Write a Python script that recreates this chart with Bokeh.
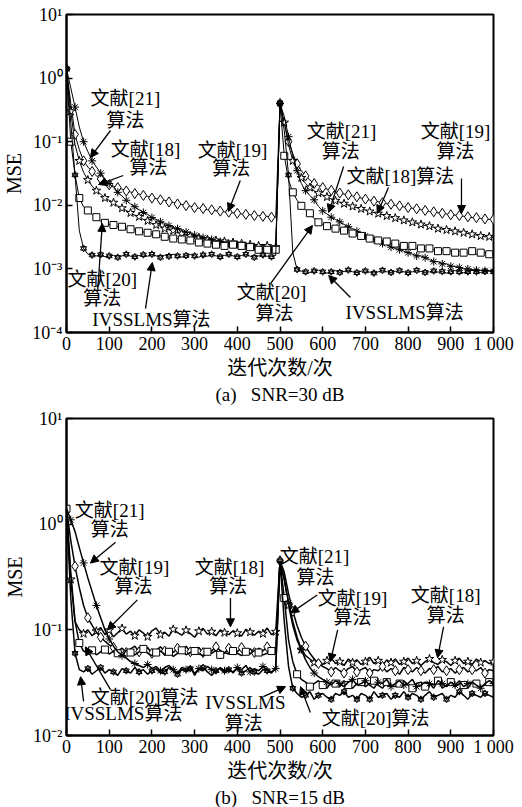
from bokeh.plotting import figure
from bokeh.layouts import column
from bokeh.models import FixedTicker, Label, Arrow, NormalHead, Title, Range1d
from bokeh.embed import file_html
from bokeh.resources import INLINE

FONT = "Liberation Serif, Noto Sans CJK SC"

# ---------------- data ----------------
iters = list(range(0, 1001, 10))

x_ticks = [0, 100, 200, 300, 400, 500, 600, 700, 800, 900, 1000]
x_tick_labels = ["0", "100", "200", "300", "400", "500", "600", "700", "800", "900", "1 000"]

ya_ticks = [1e-4, 1e-3, 1e-2, 1e-1, 1, 10]
ya_labels = ["10⁻⁴", "10⁻³", "10⁻²", "10⁻¹", "10⁰", "10¹"]
yb_ticks = [1e-2, 1e-1, 1, 10]
yb_labels = ["10⁻²", "10⁻¹", "10⁰", "10¹"]

# (a) SNR = 30 dB
a_ivss = [1.4, 0.2, 0.03, 0.004, 0.0021, 0.0017, 0.00165, 0.0016, 0.00168, 0.00155,
          0.0016, 0.00163, 0.00152, 0.0016, 0.0017, 0.00158, 0.00155, 0.00162, 0.00167, 0.00158,
          0.0017, 0.0016, 0.00152, 0.00165, 0.00158, 0.0017, 0.0016, 0.00153, 0.00162, 0.00168,
          0.0016, 0.00152, 0.00166, 0.00158, 0.0017, 0.0016, 0.00155, 0.00163, 0.0017, 0.0016,
          0.00155, 0.00162, 0.0017, 0.00158, 0.00152, 0.0016, 0.00166, 0.00158, 0.00155, 0.00162,
          0.4, 0.15, 0.03, 0.0018, 0.00098, 0.00092, 0.0009, 0.00088, 0.00093, 0.00095,
          0.0009, 0.00086, 0.0009, 0.00094, 0.00088, 0.00091, 0.00096, 0.0009, 0.00087, 0.00092,
          0.00093, 0.00089, 0.00086, 0.0009, 0.00095, 0.0009, 0.00088, 0.00091, 0.00094, 0.0009,
          0.00087, 0.0009, 0.00095, 0.00091, 0.00088, 0.0009, 0.00093, 0.00089, 0.00091, 0.00086,
          0.0009, 0.00094, 0.0009, 0.00087, 0.0009, 0.00095, 0.0009, 0.00088, 0.00091, 0.00093, 0.0009]
a_20 = [1.4, 0.1, 0.03, 0.013, 0.0095, 0.0083, 0.0072, 0.0065, 0.0056, 0.0053,
        0.005, 0.0049, 0.0046, 0.0046, 0.0043, 0.0042, 0.0041, 0.0039, 0.0038, 0.0037,
        0.0035, 0.0035, 0.0033, 0.0032, 0.0032, 0.003, 0.003, 0.0029, 0.0028, 0.0028,
        0.0027, 0.0026, 0.0027, 0.0025, 0.0025, 0.0024, 0.0025, 0.0023, 0.0023, 0.0024,
        0.0022, 0.0023, 0.0021, 0.0022, 0.0021, 0.002, 0.0021, 0.002, 0.0019, 0.002,
        0.4, 0.06, 0.025, 0.016, 0.012, 0.0098, 0.0085, 0.0075, 0.0062, 0.0054,
        0.005, 0.0047, 0.0045, 0.0043, 0.0042, 0.004, 0.0038, 0.0036, 0.0034, 0.0033,
        0.0031, 0.003, 0.0029, 0.0028, 0.0026, 0.0027, 0.0025, 0.0025, 0.0024, 0.0023,
        0.0022, 0.0023, 0.0021, 0.0021, 0.002, 0.0021, 0.002, 0.0019, 0.002, 0.0019,
        0.0019, 0.0018, 0.0019, 0.0018, 0.0018, 0.0019, 0.0017, 0.0018, 0.0018, 0.0017, 0.0018]
a_19 = [1.4, 0.4, 0.13, 0.075, 0.05, 0.04, 0.034, 0.029, 0.026, 0.023,
        0.021, 0.02, 0.019, 0.018, 0.0168, 0.0162, 0.0153, 0.015, 0.0143, 0.0138,
        0.013, 0.0128, 0.0122, 0.012, 0.0113, 0.0111, 0.0105, 0.0103, 0.0099, 0.0097,
        0.0092, 0.009, 0.0089, 0.0085, 0.0085, 0.0082, 0.0081, 0.0079, 0.0078, 0.0076,
        0.0075, 0.0073, 0.0072, 0.0071, 0.0069, 0.0069, 0.0067, 0.0067, 0.0065, 0.0065,
        0.4, 0.2, 0.1, 0.065, 0.045, 0.035, 0.029, 0.025, 0.022, 0.0205,
        0.019, 0.018, 0.0172, 0.0162, 0.0156, 0.015, 0.0146, 0.014, 0.0136, 0.013,
        0.0125, 0.0121, 0.0116, 0.0114, 0.011, 0.0106, 0.0104, 0.01, 0.0098, 0.0094,
        0.0092, 0.009, 0.0088, 0.0085, 0.0083, 0.008, 0.0079, 0.0076, 0.0075, 0.0073,
        0.0071, 0.007, 0.0069, 0.0067, 0.0066, 0.0064, 0.0064, 0.0062, 0.0061, 0.006, 0.006]
a_21 = [1.4, 0.7, 0.35, 0.17, 0.1, 0.07, 0.05, 0.04, 0.032, 0.026,
        0.022, 0.019, 0.016, 0.014, 0.012, 0.0105, 0.0095, 0.0085, 0.0077, 0.0072,
        0.0064, 0.006, 0.0055, 0.0052, 0.0048, 0.0045, 0.0043, 0.004, 0.0038, 0.0037,
        0.0034, 0.0033, 0.0031, 0.0031, 0.0029, 0.0028, 0.0027, 0.0027, 0.0025, 0.0025,
        0.0024, 0.0024, 0.0023, 0.0022, 0.0022, 0.0021, 0.0021, 0.0021, 0.002, 0.002,
        0.4, 0.25, 0.12, 0.06, 0.035, 0.022, 0.017, 0.0142, 0.0122, 0.0096,
        0.0082, 0.0073, 0.0065, 0.006, 0.0055, 0.005, 0.0046, 0.0043, 0.0039, 0.0037,
        0.0033, 0.0031, 0.0029, 0.0028, 0.0025, 0.0024, 0.0022, 0.0021, 0.002, 0.0019,
        0.0018, 0.0017, 0.0016, 0.0016, 0.0015, 0.0014, 0.0013, 0.0013, 0.0012, 0.0012,
        0.0011, 0.0011, 0.00105, 0.001, 0.001, 0.00098, 0.00096, 0.00095, 0.00094, 0.00093, 0.00092]
a_18 = [1.4, 0.3, 0.09, 0.05, 0.033, 0.025, 0.02, 0.017, 0.015, 0.013,
        0.012, 0.011, 0.0098, 0.009, 0.0083, 0.0076, 0.007, 0.0066, 0.006, 0.0057,
        0.0052, 0.0049, 0.0047, 0.0043, 0.0041, 0.004, 0.0037, 0.0036, 0.0034, 0.0033,
        0.0032, 0.0031, 0.003, 0.0029, 0.0029, 0.0028, 0.0027, 0.0027, 0.0026, 0.0026,
        0.0025, 0.0025, 0.0024, 0.0024, 0.0024, 0.0023, 0.0023, 0.0023, 0.0022, 0.0022,
        0.4, 0.2, 0.09, 0.05, 0.035, 0.027, 0.022, 0.019, 0.017, 0.0155,
        0.0145, 0.0135, 0.0126, 0.0118, 0.0112, 0.0106, 0.0101, 0.0096, 0.0092, 0.0088,
        0.0084, 0.008, 0.0077, 0.0074, 0.0071, 0.0068, 0.0065, 0.0063, 0.006, 0.0058,
        0.0056, 0.0054, 0.0052, 0.005, 0.0048, 0.0047, 0.0045, 0.0043, 0.0042, 0.0041,
        0.004, 0.0039, 0.0038, 0.0037, 0.0036, 0.0035, 0.0034, 0.0033, 0.0032, 0.0032, 0.0031]

# (b) SNR = 15 dB
b_18 = [1.4, 0.3, 0.12, 0.1, 0.092, 0.1, 0.088, 0.097, 0.105, 0.09,
        0.099, 0.086, 0.094, 0.103, 0.091, 0.097, 0.088, 0.1, 0.093, 0.086,
        0.098, 0.104, 0.09, 0.095, 0.087, 0.101, 0.094, 0.089, 0.099, 0.092,
        0.085, 0.097, 0.103, 0.091, 0.096, 0.088, 0.1, 0.094, 0.09, 0.098,
        0.093, 0.087, 0.101, 0.095, 0.089, 0.097, 0.092, 0.104, 0.09, 0.096,
        0.45, 0.3, 0.17, 0.11, 0.08, 0.065, 0.057, 0.053, 0.049, 0.052,
        0.047, 0.051, 0.054, 0.048, 0.05, 0.046, 0.053, 0.049, 0.052, 0.047,
        0.05, 0.055, 0.048, 0.051, 0.046, 0.052, 0.049, 0.053, 0.047, 0.05,
        0.054, 0.048, 0.051, 0.046, 0.05, 0.053, 0.049, 0.047, 0.052, 0.05,
        0.046, 0.051, 0.054, 0.048, 0.05, 0.047, 0.053, 0.049, 0.051, 0.048, 0.05]
b_19 = [1.4, 0.7, 0.4, 0.25, 0.17, 0.13, 0.11, 0.095, 0.085, 0.078,
        0.072, 0.068, 0.063, 0.067, 0.061, 0.066, 0.07, 0.062, 0.065, 0.068,
        0.06, 0.064, 0.069, 0.063, 0.066, 0.061, 0.067, 0.064, 0.07, 0.062,
        0.065, 0.068, 0.061, 0.066, 0.063, 0.069, 0.064, 0.06, 0.067, 0.065,
        0.062, 0.068, 0.064, 0.066, 0.061, 0.067, 0.063, 0.069, 0.065, 0.062,
        0.45, 0.35, 0.22, 0.15, 0.11, 0.085, 0.07, 0.06, 0.053, 0.048,
        0.045, 0.043, 0.04, 0.044, 0.041, 0.039, 0.043, 0.045, 0.04, 0.042,
        0.044, 0.039, 0.042, 0.041, 0.045, 0.04, 0.043, 0.041, 0.038, 0.044,
        0.042, 0.04, 0.044, 0.041, 0.039, 0.043, 0.042, 0.045, 0.04, 0.041,
        0.043, 0.039, 0.042, 0.044, 0.04, 0.042, 0.041, 0.044, 0.039, 0.042, 0.041]
b_20 = [1.4, 0.35, 0.12, 0.075, 0.063, 0.06, 0.064, 0.058, 0.062, 0.065,
        0.059, 0.063, 0.06, 0.057, 0.064, 0.061, 0.058, 0.062, 0.066, 0.06,
        0.057, 0.061, 0.063, 0.059, 0.062, 0.056, 0.06, 0.064, 0.058, 0.061,
        0.063, 0.059, 0.057, 0.062, 0.06, 0.064, 0.058, 0.061, 0.059, 0.063,
        0.06, 0.057, 0.062, 0.059, 0.064, 0.061, 0.058, 0.06, 0.063, 0.059,
        0.45, 0.2, 0.08, 0.05, 0.038, 0.034, 0.032, 0.029, 0.031, 0.033,
        0.03, 0.028, 0.032, 0.031, 0.029, 0.033, 0.03, 0.028, 0.031, 0.032,
        0.029, 0.031, 0.033, 0.03, 0.028, 0.032, 0.03, 0.029, 0.031, 0.033,
        0.03, 0.028, 0.031, 0.032, 0.029, 0.031, 0.03, 0.033, 0.028, 0.03,
        0.032, 0.029, 0.031, 0.03, 0.028, 0.032, 0.031, 0.029, 0.03, 0.032, 0.03]
b_21 = [1.4, 1.1, 0.85, 0.6, 0.43, 0.31, 0.23, 0.17, 0.13, 0.1,
        0.082, 0.07, 0.062, 0.057, 0.054, 0.05, 0.048, 0.046, 0.044, 0.047,
        0.043, 0.045, 0.041, 0.044, 0.046, 0.042, 0.039, 0.044, 0.042, 0.045,
        0.037, 0.043, 0.041, 0.045, 0.042, 0.04, 0.044, 0.041, 0.043, 0.039,
        0.044, 0.042, 0.046, 0.04, 0.043, 0.041, 0.045, 0.042, 0.04, 0.043,
        0.45, 0.3, 0.18, 0.12, 0.085, 0.065, 0.052, 0.044, 0.039, 0.036,
        0.034, 0.032, 0.03, 0.033, 0.031, 0.029, 0.032, 0.034, 0.03, 0.031,
        0.033, 0.03, 0.028, 0.032, 0.031, 0.034, 0.029, 0.031, 0.033, 0.03,
        0.031, 0.034, 0.029, 0.03, 0.032, 0.031, 0.028, 0.033, 0.031, 0.029,
        0.032, 0.03, 0.033, 0.029, 0.031, 0.032, 0.03, 0.028, 0.031, 0.033, 0.031]
b_ivss = [1.4, 0.2, 0.06, 0.042, 0.04, 0.043, 0.038, 0.041, 0.044, 0.039,
          0.042, 0.04, 0.037, 0.043, 0.041, 0.039, 0.044, 0.04, 0.042, 0.038,
          0.041, 0.043, 0.039, 0.04, 0.044, 0.041, 0.038, 0.042, 0.04, 0.043,
          0.039, 0.042, 0.044, 0.04, 0.037, 0.041, 0.043, 0.039, 0.042, 0.04,
          0.043, 0.039, 0.041, 0.044, 0.04, 0.038, 0.042, 0.041, 0.039, 0.043,
          0.45, 0.12, 0.045, 0.028, 0.025, 0.023, 0.024, 0.026, 0.022, 0.024,
          0.025, 0.023, 0.022, 0.025, 0.024, 0.026, 0.023, 0.024, 0.022, 0.025,
          0.024, 0.022, 0.026, 0.023, 0.024, 0.025, 0.022, 0.024, 0.023, 0.026,
          0.023, 0.025, 0.024, 0.022, 0.024, 0.026, 0.023, 0.024, 0.025, 0.022,
          0.024, 0.023, 0.026, 0.024, 0.022, 0.025, 0.024, 0.023, 0.025, 0.024, 0.023]

# annotations (text, x, y) in data units
ann_a_text = ["文献[21]", "算法", "文献[18]", "算法", "文献[19]", "算法", "文献[20]", "算法",
              "IVSSLMS算法", "文献[21]", "算法", "文献[18]算法", "文献[19]", "算法",
              "文献[20]", "算法", "IVSSLMS算法"]
ann_a_x = [138, 138, 185, 192, 389, 386, 84, 84, 199, 644, 642, 782, 911, 911, 480, 487, 792]
ann_a_y = [0.48, 0.215, 0.0753, 0.0393, 0.0728, 0.0379, 0.00068, 0.000343, 0.00016,
           0.1445, 0.0702, 0.0284, 0.1445, 0.0702, 0.000426, 0.000199, 0.000206]
arr_a_x0 = [103, 133, 407, 73, 185, 649, 754, 925, 478, 665]
arr_a_y0 = [0.15, 0.0294, 0.0245, 0.000457, 0.000238, 0.0407, 0.019, 0.0264, 0.000589, 0.000355]
arr_a_x1 = [56, 75, 379, 84, 201, 614, 728, 925, 576, 614]
arr_a_y1 = [0.0565, 0.0212, 0.008, 0.00518, 0.00126, 0.0077, 0.00743, 0.00743, 0.00481, 0.000787]

ann_b_text = ["文献[21]", "算法", "文献[19]", "算法", "文献[18]", "算法", "文献[20]算法",
              "IVSSLMS算法", "文献[21]", "算法", "文献[19]", "算法", "文献[18]", "算法",
              "IVSSLMS", "算法", "文献[20]算法"]
ann_b_x = [101, 101, 159, 157, 382, 379, 183, 133, 581, 583, 670, 670, 888, 888, 419, 415, 724]
ann_b_y = [1.355, 0.897, 0.385, 0.255, 0.385, 0.255, 0.0228, 0.01614, 0.489, 0.316,
           0.2, 0.13, 0.2095, 0.1355, 0.0205, 0.01297, 0.01445]
arr_b_x0 = [115, 166, 384, 103, 40, 587, 635, 883, 461, 571]
arr_b_y0 = [0.676, 0.192, 0.2, 0.0272, 0.021, 0.214, 0.1, 0.1067, 0.0233, 0.0165]
arr_b_x1 = [56, 96, 384, 44, 33, 525, 618, 869, 513, 548]
arr_b_y1 = [0.428, 0.1, 0.1067, 0.069, 0.036, 0.144, 0.0499, 0.0544, 0.029, 0.029]


def make_fig(height, top, bottom, ylo, yhi, yticks, ylabels, caption):
    p = figure(width=522, height=height, title=None,
               x_range=Range1d(0, 1000), y_range=Range1d(ylo, yhi),
               y_axis_type="log", output_backend="svg", toolbar_location=None,
               min_border_left=66, min_border_right=29,
               min_border_top=top, min_border_bottom=bottom)
    p.grid.visible = False
    p.outline_line_color = "black"
    p.outline_line_width = 2
    p.outline_line_alpha = 1
    p.xaxis.ticker = FixedTicker(ticks=x_ticks)
    p.xaxis.major_label_overrides = {t: l for t, l in zip(x_ticks, x_tick_labels)}
    p.yaxis.ticker = FixedTicker(ticks=yticks)
    p.yaxis.major_label_overrides = {t: l for t, l in zip(yticks, ylabels)}
    for ax in (p.xaxis[0], p.yaxis[0]):
        ax.axis_line_width = 2
        ax.major_tick_in = 6
        ax.major_tick_out = 0
        ax.minor_tick_in = 0
        ax.minor_tick_out = 0
        ax.major_tick_line_width = 1.5
        ax.major_label_text_font = FONT
        ax.major_label_text_font_size = "18px"
        ax.major_label_text_color = "black"
        ax.axis_label_text_font = FONT
        ax.axis_label_text_font_style = "normal"
        ax.axis_label_text_font_size = "20px"
        ax.axis_label_text_color = "black"
    p.xaxis.axis_label = "迭代次数/次"
    p.yaxis.axis_label = "MSE"
    p.xaxis.major_label_standoff = 1
    p.xaxis.axis_label_standoff = 0
    p.yaxis.major_label_standoff = 4
    p.yaxis.axis_label_standoff = 4
    cap = Title(text=caption, align="center", text_font=FONT, text_font_size="19px",
                text_font_style="normal", text_color="black", standoff=0)
    p.add_layout(cap, "below")
    return p


def draw(p, series, lw, step):
    for ys, mk, size, off in series:
        p.line(iters, ys, line_color="black", line_width=lw)
        xs_m = iters[off::step]
        ys_m = ys[off::step]
        if mk == "hexagram":
            p.scatter(xs_m, ys_m, marker="triangle", size=size, fill_color=None, line_color="black")
            p.scatter(xs_m, ys_m, marker="inverted_triangle", size=size, fill_color=None, line_color="black")
        else:
            p.scatter(xs_m, ys_m, marker=mk, size=size, fill_color="white", line_color="black")


def annotate(p, texts, xs, ys, x0, y0, x1, y1):
    for t, x, y in zip(texts, xs, ys):
        p.add_layout(Label(x=x, y=y, text=t, text_align="center", text_baseline="middle",
                           text_font=FONT, text_font_size="19px", text_color="black"))
    for a, b, c, d in zip(x0, y0, x1, y1):
        p.add_layout(Arrow(end=NormalHead(size=8, fill_color="black", line_color="black"),
                           x_start=a, y_start=b, x_end=c, y_end=d,
                           line_color="black", line_width=1.3))


p1 = make_fig(405, 14, 73, 1e-4, 10, ya_ticks, ya_labels, "(a)\u2002\u00a0SNR=30 dB")
draw(p1, [(a_19, "diamond", 10, 0), (a_18, "star", 9, 1), (a_21, "asterisk", 8, 0),
          (a_20, "square", 7, 1), (a_ivss, "hexagram", 6, 0)], 1.0, 2)
annotate(p1, ann_a_text, ann_a_x, ann_a_y, arr_a_x0, arr_a_y0, arr_a_x1, arr_a_y1)

p2 = make_fig(402, 13, 71, 1e-2, 10, yb_ticks, yb_labels, "(b)\u2002\u00a0SNR=15 dB")
draw(p2, [(b_18, "star", 9, 1), (b_19, "diamond", 10, 2), (b_20, "square", 7, 0),
          (b_21, "asterisk", 8, 1), (b_ivss, "hexagram", 6, 2)], 1.5, 3)
annotate(p2, ann_b_text, ann_b_x, ann_b_y, arr_b_x0, arr_b_y0, arr_b_x1, arr_b_y1)

layout = column(p1, p2)
open("out.html", "w").write(file_html(layout, INLINE))
